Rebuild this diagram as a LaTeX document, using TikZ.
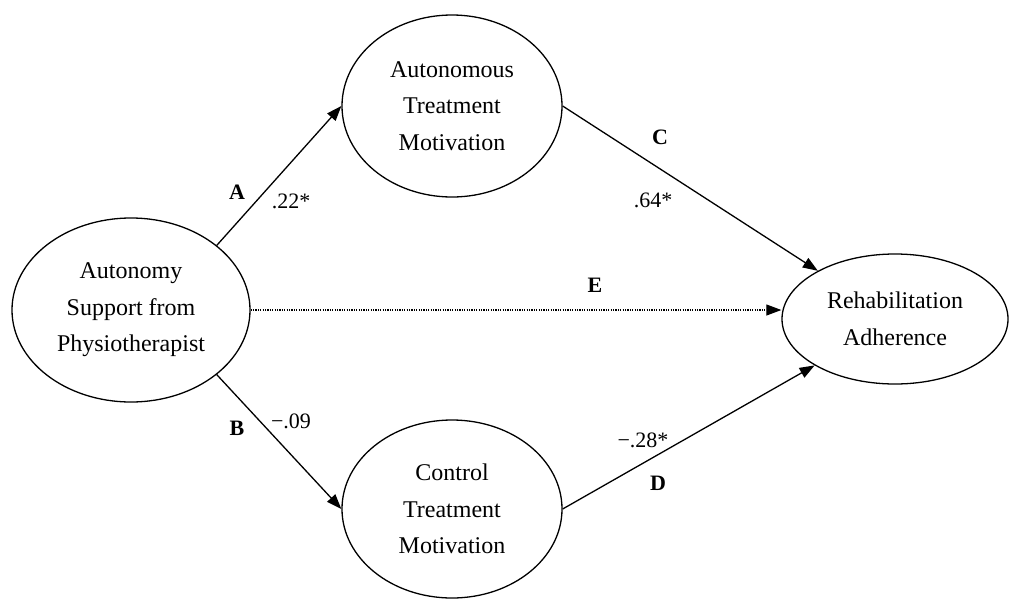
\documentclass[tikz,border=0pt]{standalone}
\usepackage{fontspec}
\setmainfont{Liberation Serif}
\usetikzlibrary{shapes.geometric,arrows.meta}
\begin{document}
\begin{tikzpicture}[x=1pt,y=-1pt,
  var/.style={draw, ellipse, line width=1.3pt, inner sep=0pt, align=center,
    font=\fontsize{24}{36.5}\selectfont},
  path/.style={line width=1.3pt, -{Triangle[length=15pt,width=11pt]}},
  dotpath/.style={line width=1.1pt, dash pattern=on 1.2pt off 1.2pt, -{Triangle[length=15pt,width=11pt]}},
  lab/.style={font=\fontsize{22}{26}\selectfont\bfseries},
  coef/.style={font=\fontsize{22}{26}\selectfont}]
\useasboundingbox (0,0) rectangle (1009,600);
\node[var, minimum width=238pt, minimum height=184pt] (left) at (131,310) {Autonomy\\Support from\\Physiotherapist};
\node[var, minimum width=220pt, minimum height=182pt] (top) at (452,106) {Autonomous\\Treatment\\Motivation};
\node[var, minimum width=220pt, minimum height=178pt] (bot) at (452,509) {Control\\Treatment\\Motivation};
\node[var, minimum width=226pt, minimum height=130pt] (right) at (895,319) {Rehabilitation\\Adherence};
\draw[path] (left.37.5) -- (top.west);
\draw[path] (left.-37.8) -- (bot.west);
\draw[path] (top.east) -- (right.148.4);
\draw[path] (bot.east) -- (right.210.4);
\draw[dotpath] (left.east) -- (left.east -| right.west);
\node[lab] (la) at (237,192) {A};
\node[coef] (ca) at (291,201) {.22*};
\node[lab] (lb) at (237,428) {B};
\node[coef] (cb) at (291,421) {−.09};
\node[lab] (lc) at (660,137) {C};
\node[coef] (cc) at (653,200) {.64*};
\node[lab] (ld) at (658,483) {D};
\node[coef] (cd) at (643,440) {−.28*};
\node[lab] (le) at (595,285) {E};
\end{tikzpicture}
\end{document}
